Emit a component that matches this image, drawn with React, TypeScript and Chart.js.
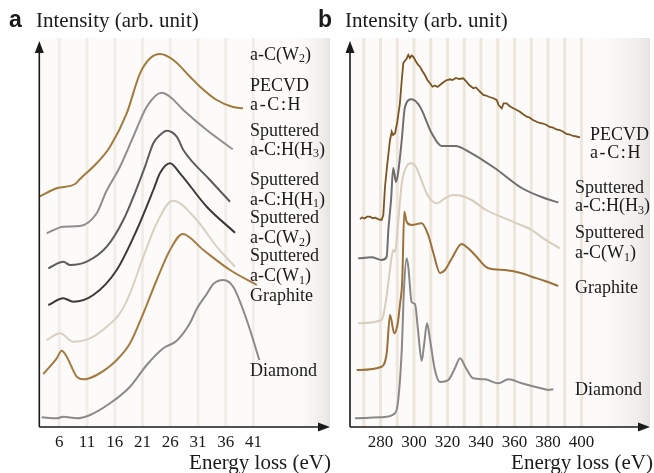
import React, { useEffect, useRef } from "react";
import { Chart, registerables } from "chart.js";

Chart.register(...registerables);

const SERIF = '"Liberation Serif", "Times New Roman", Times, serif';
const SANS = '"Liberation Sans", Arial, Helvetica, sans-serif';

// ---------------- Panel a : low-loss (eV) ----------------
const aTickValues = [6, 11, 16, 21, 26, 31, 36, 41];

const aPecvdX = [2.39, 5.53, 8.83, 9.73, 12.73, 15.14, 18.15, 20.55, 22.38, 24.15, 26.56, 29.57, 31.37, 34.38, 37.32, 39.12];
const aPecvdY = [230.3, 238.7, 243, 248, 263.7, 280.3, 313.7, 353.7, 368.7, 373, 367, 350.3, 340.3, 327, 320, 318.7];

const aH3X = [3.73, 6.72, 9.73, 12.74, 14.42, 16.94, 19.34, 21.76, 24.46, 25.96, 28.36, 32.58, 37.27];
const aH3Y = [193.7, 200.3, 201, 213.7, 235, 260.3, 290.3, 320.3, 334.3, 330.3, 317, 297, 277.7];

const aH1X = [4.02, 6.72, 7.93, 10.94, 14.55, 17.54, 20.55, 21.45, 22.95, 24.16, 25.37, 27.17, 28.36, 33.17, 36.78];
const aH1Y = [158.7, 165.3, 162, 165.3, 180.3, 207, 247, 260.3, 283.7, 292, 296.3, 290.3, 277, 247, 225.3];

const aW2X = [4.02, 6.72, 8.52, 12.13, 16.35, 19.96, 22.95, 24.16, 25.96, 27.75, 32.58, 37.68];
const aW2Y = [122, 128.7, 125.3, 132, 157, 197, 237, 254, 263.7, 253.7, 220.3, 194.3];

const aW1X = [3.73, 6.13, 8.52, 11.54, 14.55, 16.94, 18.75, 21.15, 23.56, 26.45, 30.77, 34.38, 37.68];
const aW1Y = [87, 93.7, 85.3, 88.7, 100.3, 113.7, 133.7, 170.3, 203.7, 226.3, 207, 180.3, 160.3];

const aGraphiteX = [3.12, 5.53, 6.43, 7.33, 9.14, 10.33, 12.74, 16.35, 18.75, 21.15, 23.56, 25.96, 28.25, 31.96, 36.78, 41.6];
const aGraphiteY = [53, 68.7, 76.3, 70.3, 50.3, 47.7, 52, 67, 83.7, 113.7, 147, 177, 193, 177, 157, 142];

const aDiamondX = [2.83, 5.53, 6.72, 9.14, 11.54, 15.14, 18.75, 21.76, 24.75, 27.17, 29.57, 30.77, 32.58, 33.77, 35.57, 37.37, 39.79, 42.06];
const aDiamondY = [9.7, 8.7, 10.3, 8.7, 12, 23.7, 40.3, 62, 78.7, 86.3, 104, 118, 133, 143, 147, 140, 107, 67];

// ---------------- Panel b : carbon K edge (eV) ----------------
const bTickValues = [280, 300, 320, 340, 360, 380, 400];
const bStripeValues = [270, 280, 290, 300, 310, 320, 330, 340, 350, 360, 370, 380, 390, 400];

const bPecvdX = [267.8, 269, 270.5, 272, 273.7, 275.5, 277, 279, 280.7, 281.7, 282.7, 284, 285.2, 285.7, 286.7, 287.5, 288.7, 290, 291.6, 292.6, 293.6, 294.5, 295.5, 296.6, 297.6, 298.6, 299.6, 301, 302.5, 303.6, 305, 306.5, 308, 309.6, 311, 312.5, 314, 315.5, 317, 319, 321.5, 323, 325, 327, 329.4, 331, 333, 335.4, 337, 339, 341.4, 343, 345, 347, 349.4, 350.5, 352.4, 353.5, 355.3, 357, 359, 361.3, 363, 365, 367.3, 369, 371, 373.3, 375, 377, 379.2, 381, 383, 385, 387, 389.1, 391, 393, 395, 397, 399.1];
const bPecvdY = [208, 209.5, 208.5, 210.3, 210.3, 208.8, 209.3, 207.5, 207, 212, 240.3, 262, 280, 287, 295.3, 292, 293.7, 305, 323.7, 345, 363.7, 366, 368, 372, 369, 371.5, 370.3, 366, 362, 360.3, 356, 352, 347, 343.7, 340.3, 341.5, 340, 342, 344, 346.5, 347.7, 347, 349, 348, 348.7, 346, 342, 338.7, 339.5, 336, 332, 331.5, 330, 329, 327, 322, 318.7, 323.7, 323.7, 321, 319, 317, 315.5, 313, 310.3, 309.5, 307, 305.3, 304, 303.5, 302, 300, 299.5, 297.5, 297, 295.3, 293, 292.5, 291, 290.5, 289.7];

const bH3X = [266.7, 274.7, 280.7, 283.7, 284.7, 286.3, 287.6, 289.3, 290.6, 292.7, 294.6, 298.6, 303.6, 310.6, 316.5, 324.5, 334.4, 348.4, 364.3, 378.2, 386.1];
const bH3Y = [168.7, 169.7, 167, 170.3, 197, 227, 259, 245, 255, 287, 320, 327.7, 320.3, 293.7, 281, 281, 273.7, 258.7, 239, 228.7, 224.5];

const bW1X = [266.7, 280.7, 282.7, 284.5, 286.7, 287.6, 288.7, 290.4, 292.7, 294.6, 297.9, 301.2, 304.8, 308.4, 313.6, 318.5, 323.5, 327.5, 334.4, 343, 354.3, 361.3, 370.3, 377.2, 387.2];
const bW1Y = [103.7, 107, 120.3, 142, 170.3, 177, 175, 202, 243.7, 257, 263.7, 260, 245, 231, 223.7, 228.7, 232, 231.5, 227, 217, 208.7, 203.7, 197, 188.7, 178.7];

const bGraphiteX = [265.8, 280.7, 283.7, 285.7, 288.2, 290.3, 291.6, 293, 294.2, 295.6, 298.6, 304.6, 308.5, 311.9, 315.5, 318.5, 322.7, 328.5, 332.2, 336.4, 344.4, 354.3, 364.3, 370.3, 378.2, 386.1];
const bGraphiteY = [57, 60.3, 73.7, 112, 93.7, 103.7, 122, 147, 215.3, 205.3, 202, 203.7, 192, 172, 154, 157, 169, 183, 179, 172, 158.7, 157, 153.7, 150.3, 146, 141];

const bDiamondX = [264.8, 280.7, 288.7, 290.6, 292.7, 294, 295.6, 296.6, 298.6, 300.6, 302.4, 304.6, 306, 307.8, 309.6, 312.5, 315.5, 320.5, 324.5, 327.5, 331, 335.4, 342.4, 350.3, 356.3, 364.3, 370.3, 378.2, 380, 383.2];
const bDiamondY = [8.7, 9.7, 13.7, 27, 77, 137, 168.7, 160.3, 125, 123, 97, 66, 82, 103.7, 87, 57, 45, 47, 59, 68.7, 59, 48.7, 47.7, 43.7, 47.7, 43.7, 41, 37.7, 37, 37.7];

// ---------------- labels (text, position in data units) ----------------
type Label = { text: string; x: number; y: number; spacing?: number };

const aLabels: Label[] = [
  { text: "a-C(W_2)", x: 40.4, y: 372 },
  { text: "PECVD", x: 40.4, y: 340.3 },
  { text: "a-C:H", x: 40.4, y: 322, spacing: 1.6 },
  { text: "Sputtered", x: 40.4, y: 295.3 },
  { text: "a-C:H(H_3)", x: 40.4, y: 277 },
  { text: "Sputtered", x: 40.4, y: 247 },
  { text: "a-C:H(H_1)", x: 40.4, y: 227 },
  { text: "Sputtered", x: 40.4, y: 208.7 },
  { text: "a-C(W_2)", x: 40.4, y: 188.7 },
  { text: "Sputtered", x: 40.4, y: 171 },
  { text: "a-C(W_1)", x: 40.4, y: 150.3 },
  { text: "Graphite", x: 40.4, y: 130.3 },
  { text: "Diamond", x: 40.4, y: 56 },
];

const bLabels: Label[] = [
  { text: "PECVD", x: 405.1, y: 292 },
  { text: "a-C:H", x: 405.1, y: 273.7, spacing: 1.6 },
  { text: "Sputtered", x: 396.1, y: 238.7 },
  { text: "a-C:H(H_3)", x: 396.1, y: 220.3 },
  { text: "Sputtered", x: 396.1, y: 193.7 },
  { text: "a-C(W_1)", x: 396.1, y: 173.7 },
  { text: "Graphite", x: 396.1, y: 138.7 },
  { text: "Diamond", x: 396.1, y: 37 },
];

function zip(xs: number[], ys: number[]) {
  return xs.map((x, i) => ({ x, y: ys[i] }));
}

function drawRich(ctx: CanvasRenderingContext2D, text: string, x: number, y: number, size: number, spacing = 0) {
  let cx = x;
  for (let i = 0; i < text.length; i++) {
    let ch = text[i];
    let sub = false;
    if (ch === "_") {
      sub = true;
      ch = text[++i];
    }
    const fs = sub ? Math.round(size * 0.68) : size;
    ctx.font = `${fs}px ${SERIF}`;
    ctx.fillText(ch, cx, sub ? y + size * 0.24 : y);
    cx += ctx.measureText(ch).width + spacing;
  }
}

type PanelCfg = {
  letter: string;
  letterX: number;
  titleX: number;
  xTitleRight: number;
  stripes: number[];
  stripeColor: string;
  gradFrom: number;
  labels: Label[];
};

function makePlugin(cfg: PanelCfg) {
  return {
    id: "panelDeco",
    beforeDraw(chart: any) {
      const { ctx, chartArea } = chart;
      const xs = chart.scales.x;
      const { left, right, bottom } = chartArea;
      const top = chartArea.top - 2;
      ctx.save();
      ctx.fillStyle = "#fcfbfa";
      ctx.fillRect(left, top, right - left, bottom - top);
      const gx = left + cfg.gradFrom;
      const g = ctx.createLinearGradient(gx, 0, right, 0);
      g.addColorStop(0, "rgba(252,251,250,1)");
      g.addColorStop(0.75, "rgba(240,238,235,1)");
      g.addColorStop(1, "rgba(230,228,224,1)");
      ctx.fillStyle = g;
      ctx.fillRect(gx, top, right - gx, bottom - top);
      ctx.fillStyle = cfg.stripeColor;
      for (const v of cfg.stripes) {
        const px = xs.getPixelForValue(v);
        ctx.fillRect(px - 1.5, top, 3, bottom - top);
      }
      ctx.restore();
    },
    afterDraw(chart: any) {
      const { ctx, chartArea } = chart;
      const { left, right, top, bottom } = chartArea;
      const xs = chart.scales.x;
      const ys = chart.scales.y;
      ctx.save();
      // axes with arrows
      ctx.strokeStyle = "#1a1a1a";
      ctx.fillStyle = "#1a1a1a";
      ctx.lineWidth = 1.6;
      ctx.beginPath();
      ctx.moveTo(left, bottom);
      ctx.lineTo(left, top + 8);
      ctx.moveTo(left, bottom);
      ctx.lineTo(right - 8, bottom);
      ctx.stroke();
      ctx.beginPath();
      ctx.moveTo(left, top + 1);
      ctx.lineTo(left - 4.5, top + 13);
      ctx.lineTo(left + 4.5, top + 13);
      ctx.closePath();
      ctx.fill();
      ctx.beginPath();
      ctx.moveTo(right, bottom);
      ctx.lineTo(right - 12, bottom - 4.5);
      ctx.lineTo(right - 12, bottom + 4.5);
      ctx.closePath();
      ctx.fill();

      // panel titles
      ctx.fillStyle = "#1a1a1a";
      ctx.textBaseline = "alphabetic";
      ctx.textAlign = "left";
      ctx.font = `bold 23px ${SANS}`;
      ctx.fillText(cfg.letter, cfg.letterX, 27);
      ctx.font = `21px ${SERIF}`;
      ctx.fillText("Intensity (arb. unit)", cfg.titleX, 27);
      ctx.textAlign = "right";
      ctx.fillText("Energy loss (eV)", cfg.xTitleRight, 469);

      // curve labels
      ctx.textAlign = "left";
      ctx.textBaseline = "middle";
      for (const l of cfg.labels) {
        drawRich(ctx, l.text, xs.getPixelForValue(l.x), ys.getPixelForValue(l.y), 18, l.spacing || 0);
      }
      ctx.restore();
    },
  };
}

function line(data: { x: number; y: number }[], color: string, width = 2, smooth = true) {
  return {
    data,
    borderColor: color,
    borderWidth: width,
    pointRadius: 0,
    fill: false,
    tension: smooth ? 0.4 : 0,
    cubicInterpolationMode: smooth ? ("monotone" as const) : ("default" as const),
  };
}

function makeConfig(
  datasets: any[],
  xmin: number,
  xmax: number,
  ticks: number[],
  padding: { left: number; right: number },
  plugin: any
) {
  return {
    type: "line" as const,
    data: { datasets },
    options: {
      responsive: false,
      animation: false as const,
      events: [],
      layout: { padding: { left: padding.left, right: padding.right, top: 40, bottom: 0 } },
      plugins: { legend: { display: false }, tooltip: { enabled: false } },
      scales: {
        x: {
          type: "linear" as const,
          min: xmin,
          max: xmax,
          grid: { display: false, drawTicks: false },
          border: { display: false },
          afterBuildTicks: (s: any) => {
            s.ticks = ticks.map((v) => ({ value: v }));
          },
          afterFit: (s: any) => {
            s.height = 46;
          },
          ticks: {
            autoSkip: false,
            maxRotation: 0,
            padding: 5,
            color: "#1a1a1a",
            font: { family: SERIF, size: 17 },
            callback: (v: any) => String(v),
          },
        },
        y: { display: false, min: 0, max: 387 },
      },
    },
    plugins: [plugin],
  };
}

export default function App() {
  const refA = useRef<HTMLCanvasElement>(null);
  const refB = useRef<HTMLCanvasElement>(null);

  useEffect(() => {
    const dsA = [
      line(zip(aPecvdX, aPecvdY), "#a27a3e"),
      line(zip(aH3X, aH3Y), "#8e8e8e"),
      line(zip(aH1X, aH1Y), "#5c5c5c"),
      line(zip(aW2X, aW2Y), "#3a3a3a"),
      line(zip(aW1X, aW1Y), "#d9d0c1"),
      line(zip(aGraphiteX, aGraphiteY), "#a67b42"),
      line(zip(aDiamondX, aDiamondY), "#8a8a8a"),
    ];
    const dsB = [
      line(zip(bPecvdX, bPecvdY), "#7c5522", 1.8, false),
      line(zip(bH3X, bH3Y), "#6f6f6f"),
      line(zip(bW1X, bW1Y), "#d8cebd"),
      line(zip(bGraphiteX, bGraphiteY), "#9c7039"),
      line(zip(bDiamondX, bDiamondY), "#898989"),
    ];
    const pA = makePlugin({
      letter: "a",
      letterX: 9,
      titleX: 36,
      xTitleRight: 331,
      stripes: aTickValues,
      stripeColor: "#f1eee9",
      gradFrom: 262,
      labels: aLabels,
    });
    const pB = makePlugin({
      letter: "b",
      letterX: 8,
      titleX: 35,
      xTitleRight: 343,
      stripes: bStripeValues,
      stripeColor: "#ece6dc",
      gradFrom: 255,
      labels: bLabels,
    });
    const chartA = new Chart(
      refA.current!,
      makeConfig(dsA, 2.39, 2.39 + 290.7 / 5.546, aTickValues, { left: 39.3, right: 10 }, pA) as any
    );
    const chartB = new Chart(
      refB.current!,
      makeConfig(dsB, 261.8, 261.8 + 300 / 1.675, bTickValues, { left: 40, right: 4 }, pB) as any
    );
    return () => {
      chartA.destroy();
      chartB.destroy();
    };
  }, []);

  return (
    <div
      style={{
        position: "fixed",
        left: 0,
        top: 0,
        width: 654,
        height: 473,
        background: "#ffffff",
        overflow: "hidden",
      }}
    >
      <canvas
        ref={refA}
        width={340}
        height={473}
        style={{ position: "absolute", left: 0, top: 0, width: 340, height: 473 }}
      />
      <canvas
        ref={refB}
        width={344}
        height={473}
        style={{ position: "absolute", left: 310, top: 0, width: 344, height: 473 }}
      />
    </div>
  );
}
